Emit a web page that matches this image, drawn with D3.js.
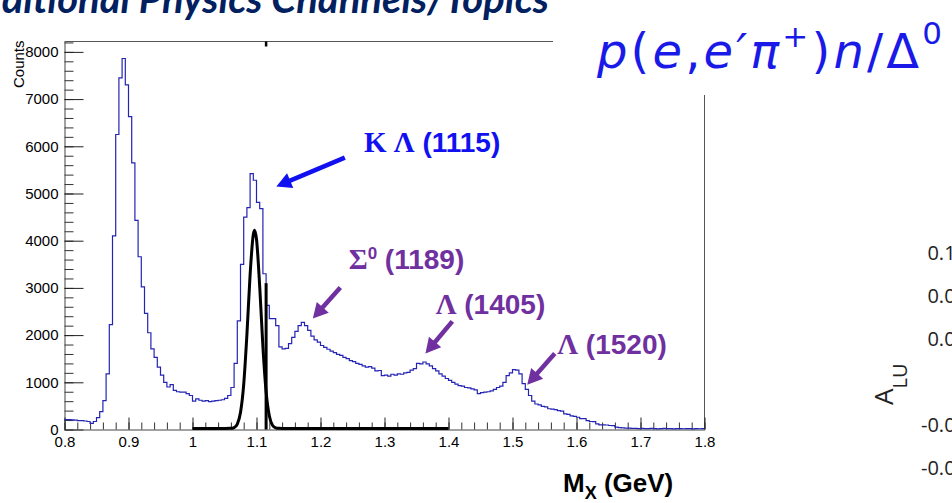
<!DOCTYPE html>
<html>
<head>
<meta charset="utf-8">
<script src="https://cdn.jsdelivr.net/npm/d3@7"></script>
<style>
  body { margin: 0; background: #fff; }
  svg { display: block; font-family: "Liberation Sans", Arial, sans-serif; }
</style>
</head>
<body>
<svg id="chart" width="952" height="503"></svg>
<script>
// Missing mass M_X, 5 MeV bins from 0.8 to 1.8 GeV
const binStart = 0.8;
const binWidth = 0.005;
const counts = [
  210, 210, 205, 200, 190, 190, 180, 170, 130, 170,
  250, 380, 610, 1180, 2220, 4100, 6250, 7450, 7860, 7300,
  6630, 5650, 4430, 3660, 3020, 2460, 2050, 1710, 1530, 1320,
  1150, 1000, 900, 950, 830, 800, 790, 790, 760, 720,
  600, 650, 620, 600, 610, 590, 600, 610, 620, 630,
  660, 720, 890, 1400, 2300, 3500, 4500, 4700, 5420, 5280,
  4810, 4680, 3300, 2630, 2350, 2350, 2200, 1750, 1710, 1720,
  1820, 1950, 2080, 2200, 2270, 2200, 2100, 1980, 1900, 1850,
  1780, 1740, 1700, 1660, 1630, 1590, 1570, 1530, 1500, 1460,
  1440, 1400, 1380, 1350, 1320, 1330, 1300, 1240, 1250, 1140,
  1150, 1130, 1170, 1150, 1180, 1170, 1200, 1210, 1260, 1290,
  1400, 1390, 1430, 1390, 1350, 1290, 1240, 1180, 1130, 1080,
  1040, 1000, 960, 930, 920, 890, 880, 860, 840, 760,
  780, 790, 800, 820, 850, 890, 920, 1000, 1140, 1200,
  1270, 1260, 1180, 970, 850, 720, 600, 540, 520, 490,
  480, 440, 430, 420, 400, 390, 330, 320, 290, 280,
  260, 230, 230, 190, 170, 165, 120, 100, 100, 95,
  85, 80, 50, 40, 35, 30, 28, 25, 22, 20,
  22, 18, 20, 25, 18, 15, 20, 22, 18, 20,
  15, 18, 20, 16, 18, 20, 15, 18, 16, 20
];

// Gaussian fit to the K Lambda(1115) peak (1.0 - 1.4 GeV)
const fitMass = [1.0, 1.05, 1.06, 1.065, 1.07, 1.075, 1.08, 1.085, 1.09, 1.095, 1.097,
  1.1, 1.105, 1.11, 1.115, 1.12, 1.125, 1.13, 1.135, 1.14, 1.2, 1.4];
const fitCounts = [0, 0, 3, 20, 95, 340, 930, 1985, 3255, 4110, 4200,
  4010, 3010, 1740, 780, 270, 70, 15, 3, 0, 0, 0];

// vertical marker at the Lambda mass
const markerMass = 1.115;
const markerCounts = 3100;

const xTicks = [0.8, 0.9, 1.0, 1.1, 1.2, 1.3, 1.4, 1.5, 1.6, 1.7, 1.8];
const xTickLabels = ["0.8", "0.9", "1", "1.1", "1.2", "1.3", "1.4", "1.5", "1.6", "1.7", "1.8"];
const yTicks = [0, 1000, 2000, 3000, 4000, 5000, 6000, 7000, 8000];

// hyperon peaks that get an arrow
const peakGreek = ["K Λ", "Σ", "Λ", "Λ"];
const peakSup = ["", "0", "", ""];
const peakMass = ["(1115)", "(1189)", "(1405)", "(1520)"];

// asymmetry axis of the neighbouring panel
const aluTicks = [0.12, 0.08, 0.04, 0, -0.04, -0.08];
const aluTickLabels = ["0.12", "0.08", "0.04", "0", "-0.04", "-0.08"];

const svg = d3.select("#chart");

const x = d3.scaleLinear().domain([0.8, 1.8]).range([64.5, 704.5]);
const y = d3.scaleLinear().domain([0, 8220]).range([429.5, 41.5]);

// label + arrow placement, in data coordinates
const peakLayout = [
  {color: "#1010f0", text: [1.268, 5870], tail: [1.238, 5760], tip: [1.131, 5150]},
  {color: "#7030a0", text: [1.244, 3410], tail: [1.231, 3010], tip: [1.188, 2350]},
  {color: "#7030a0", text: [1.380, 2440], tail: [1.406, 2290], tip: [1.364, 1610]},
  {color: "#7030a0", text: [1.570, 1590], tail: [1.566, 1610], tip: [1.523, 950]}
];

// ---- frame ----
svg.append("path")
    .attr("d", `M${x(0.8)},${y(8220)}H${x(1.8)}V${y(0)}`)
    .attr("fill", "none")
    .attr("stroke", "#555")
    .attr("stroke-width", 1);

// ---- axes ----
function styleAxis(g) {
  g.select(".domain").attr("stroke", "#444");
  g.selectAll(".tick line").attr("stroke", "#222");
  g.selectAll("text")
      .attr("fill", "#000")
      .style("font-size", "15px")
      .style("font-family", "'Liberation Sans', Arial, sans-serif");
}

svg.append("g")
    .attr("transform", `translate(${x(0.8)},0)`)
    .call(d3.axisLeft(y).tickValues(d3.range(0, 8201, 200)).tickSize(-9).tickFormat(""))
    .call(g => g.select(".domain").remove())
    .call(g => g.selectAll(".tick line").attr("stroke", "#333"));

svg.append("g")
    .attr("transform", `translate(${x(0.8)},0)`)
    .call(d3.axisLeft(y).tickValues(yTicks).tickSizeInner(-19).tickSizeOuter(0)
      .tickPadding(6).tickFormat(d3.format("d")))
    .call(styleAxis);

svg.append("g")
    .attr("transform", `translate(0,${y(0)})`)
    .call(d3.axisBottom(x).tickValues(d3.range(0.8, 1.8001, 0.02)).tickSize(-7).tickFormat(""))
    .call(g => g.select(".domain").remove())
    .call(g => g.selectAll(".tick line").attr("stroke", "#333"));

svg.append("g")
    .attr("transform", `translate(0,${y(0)})`)
    .call(d3.axisBottom(x).tickValues(xTicks).tickSizeInner(-12).tickSizeOuter(0)
      .tickPadding(7).tickFormat((d, i) => xTickLabels[i]))
    .call(styleAxis);

// y axis title
svg.append("text")
    .attr("transform", `translate(24,${y(8220) - 1}) rotate(-90)`)
    .attr("text-anchor", "end")
    .style("font-size", "15px")
    .text("Counts");

// x axis title
const xTitle = svg.append("text")
    .attr("x", 563)
    .attr("y", 492)
    .style("font-size", "26px")
    .style("font-weight", "bold");
xTitle.append("tspan").text("M");
xTitle.append("tspan").attr("dy", 7).style("font-size", "18px").text("X");
xTitle.append("tspan").attr("dy", -7).text(" (GeV)");

// ---- histogram ----
const histPts = counts.map((c, i) => [x(binStart + i * binWidth), y(c)]);
histPts.push([x(binStart + counts.length * binWidth), y(counts[counts.length - 1])]);

svg.append("path")
    .attr("d", d3.line().curve(d3.curveStepAfter)(histPts))
    .attr("fill", "none")
    .attr("stroke", "#2424b4")
    .attr("stroke-width", 1.2);

// ---- fit curve ----
svg.append("path")
    .datum(fitMass.map((m, i) => [m, fitCounts[i]]))
    .attr("d", d3.line().x(d => x(d[0])).y(d => y(d[1]) - 1).curve(d3.curveMonotoneX))
    .attr("fill", "none")
    .attr("stroke", "#000")
    .attr("stroke-width", 3);

// marker line and its tick on the top edge
svg.append("line")
    .attr("x1", x(markerMass)).attr("x2", x(markerMass))
    .attr("y1", y(0)).attr("y2", y(markerCounts))
    .attr("stroke", "#000")
    .attr("stroke-width", 3);
svg.append("line")
    .attr("x1", x(markerMass)).attr("x2", x(markerMass))
    .attr("y1", y(8220)).attr("y2", y(8220) + 5)
    .attr("stroke", "#000")
    .attr("stroke-width", 2.5);

// ---- peak annotations ----
function drawArrow(tail, tip, color) {
  const x1 = x(tail[0]), y1 = y(tail[1]);
  const x2 = x(tip[0]), y2 = y(tip[1]);
  const len = Math.hypot(x2 - x1, y2 - y1);
  const ux = (x2 - x1) / len, uy = (y2 - y1) / len;
  const headLen = 15, headHalf = 8;
  const bx = x2 - ux * headLen, by = y2 - uy * headLen;
  svg.append("line")
      .attr("x1", x1).attr("y1", y1)
      .attr("x2", bx + ux * 2).attr("y2", by + uy * 2)
      .attr("stroke", color)
      .attr("stroke-width", 4.5);
  svg.append("path")
      .attr("d", `M${x2},${y2}L${bx - uy * headHalf},${by + ux * headHalf}L${bx + uy * headHalf},${by - ux * headHalf}Z`)
      .attr("fill", color);
}

peakLayout.forEach((p, i) => {
  drawArrow(p.tail, p.tip, p.color);
  const t = svg.append("text")
      .attr("x", x(p.text[0]))
      .attr("y", y(p.text[1]))
      .attr("fill", p.color)
      .style("font-weight", "bold");
  t.append("tspan")
      .style("font-family", "'Liberation Serif', 'Times New Roman', serif")
      .style("font-size", "29px")
      .text(peakGreek[i]);
  if (peakSup[i]) {
    t.append("tspan")
        .attr("dy", -10)
        .style("font-size", "17px")
        .text(peakSup[i]);
    t.append("tspan").attr("dy", 10).style("font-size", "28px").text(" " + peakMass[i]);
  } else {
    t.append("tspan").style("font-size", "28px").text(" " + peakMass[i]);
  }
});

// ---- reaction label, sitting on a white box over the corner ----
svg.append("rect")
    .attr("x", 553).attr("y", 0)
    .attr("width", 399).attr("height", 95)
    .attr("fill", "#fff");

const reaction = svg.append("text")
    .attr("x", 597)
    .attr("y", 68)
    .attr("textLength", 345)
    .attr("lengthAdjust", "spacing")
    .attr("fill", "#1a1ae8")
    .style("font-family", "'DejaVu Sans', sans-serif")
    .style("font-size", "48px");
reaction.append("tspan").style("font-style", "italic").text("p");
reaction.append("tspan").text("(");
reaction.append("tspan").style("font-style", "italic").text("e");
reaction.append("tspan").text(",");
reaction.append("tspan").style("font-style", "italic").text("e′π");
reaction.append("tspan").attr("dy", -21).style("font-size", "31px").text("+");
reaction.append("tspan").attr("dy", 21).text(")");
reaction.append("tspan").style("font-style", "italic").text("n");
reaction.append("tspan").text("/Δ");
reaction.append("tspan").attr("dy", -24).style("font-size", "31px").text("0");

// slide heading, partly off the page
svg.append("text")
    .attr("x", 549)
    .attr("y", 13)
    .attr("text-anchor", "end")
    .attr("fill", "#002060")
    .style("font-family", "Lato, 'Open Sans', sans-serif")
    .style("font-size", "40px")
    .style("font-weight", "bold")
    .style("font-style", "italic")
    .text("Additional Physics Channels/Topics");

// ---- neighbouring asymmetry axis, cut by the page edge ----
const yAlu = d3.scaleLinear().domain([-0.08, 0.12]).range([468, 253]);
svg.append("g")
    .selectAll("text")
    .data(aluTicks)
    .join("text")
    .attr("x", 967)
    .attr("y", d => yAlu(d))
    .attr("dy", "0.35em")
    .attr("text-anchor", "end")
    .attr("fill", "#222")
    .style("font-family", "'Open Sans', sans-serif")
    .style("font-size", "20px")
    .text((d, i) => aluTickLabels[i]);

const alu = svg.append("text")
    .attr("transform", "translate(893,405) rotate(-90)")
    .attr("fill", "#222")
    .style("font-family", "'Open Sans', sans-serif")
    .style("font-size", "26px");
alu.append("tspan").text("A");
alu.append("tspan").attr("dy", 14).style("font-size", "20px").text("LU");
</script>
</body>
</html>
